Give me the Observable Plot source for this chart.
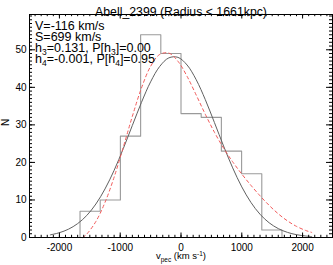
<!DOCTYPE html>
<html><head><meta charset="utf-8">
<script src="https://cdn.jsdelivr.net/npm/d3@7"></script>
<script src="https://cdn.jsdelivr.net/npm/@observablehq/plot@0.6"></script>
<style>
html,body{margin:0;padding:0;background:#fff;}
</style></head><body><div id="chart"></div>
<script>
const title = "Abell_2399 (Radius < 1661kpc)";
const statLines = ["V=-116 km/s", "S=699 km/s", "h_{3}=0.131, P[h_{3}]=0.00", "h_{4}=-0.001, P[h_{4}]=0.95"];
const xLabel = "v_{pec} (km s^{-1})";
const yLabel = "N";

const binEdges = [-1661, -1329, -997, -664, -332, 0, 332, 664, 997, 1329, 1661];
const binCounts = [7, 10, 27, 54, 49, 33, 32, 23, 17, 2];

const gaussV = [-2150,-2000,-1850,-1700,-1550,-1400,-1250,-1100,-950,-800,-650,-500,-350,-200,-50,100,250,400,550,700,850,1000,1150,1300,1450,1600,1750,1900,2050,2150];
const gaussN = [0.70,1.28,2.22,3.70,5.87,8.92,12.94,17.89,23.66,29.86,36.00,41.46,45.57,47.85,47.99,45.95,42.03,36.71,30.62,24.38,18.55,13.48,9.35,6.19,3.92,2.37,1.37,0.75,0.40,0.25];

const ghV = [-1613,-1550,-1400,-1250,-1100,-950,-800,-650,-500,-350,-200,-50,100,250,400,550,700,850,1000,1150,1300,1450,1600,1750,1900,2050,2150];
const ghN = [0,0.90,4.26,9.35,16.07,24.02,32.29,39.83,45.59,48.76,49.12,46.94,42.92,37.95,32.81,28.03,23.82,20.16,16.90,13.90,11.11,8.56,6.31,4.44,2.96,1.88,1.35];

const xTicks = [-2000, -1000, 0, 1000, 2000];
const yTicks = [0, 10, 20, 30, 40, 50];
const xMinor = d3.range(-2400, 2401, 100);
const yMinor = d3.range(0, 60, 1);

// step outline of the histogram
const histPts = [{v: binEdges[0], n: 0}]
  .concat(binCounts.map((c, i) => ({v: binEdges[i], n: c})))
  .concat([{v: binEdges[binEdges.length - 1], n: 0}]);
const gauss = gaussV.map((v, i) => ({v, n: gaussN[i]}));
const gh = ghV.map((v, i) => ({v, n: ghN[i]}));

const W = 333, H = 265, mL = 29, mR = 1, mT = 14, mB = 28;
const pw = W - mL - mR, ph = H - mT - mB;
const fmt = d => String(d);

const chart = Plot.plot({
  width: W, height: H,
  marginLeft: mL, marginRight: mR, marginTop: mT, marginBottom: mB,
  style: {fontFamily: "'Liberation Sans', Arial, Helvetica, sans-serif", fontSize: "10px", background: "#fff", color: "#000", overflow: "visible"},
  x: {domain: [-2492, 2492]},
  y: {domain: [0, 59.4]},
  marks: [
    Plot.line(histPts, {x: "v", y: "n", curve: "step-after", stroke: "#9a9a9a", strokeWidth: 1.1}),
    Plot.line(gauss, {x: "v", y: "n", curve: "catmull-rom", stroke: "#606060", strokeWidth: 1}),
    Plot.line(gh, {x: "v", y: "n", curve: "catmull-rom", stroke: "#f25a5a", strokeWidth: 1, strokeDasharray: "3,3"}),
    // ticks, inward, on all four sides
    Plot.tickX(xTicks, {x: d => d, insetTop: ph - 4.5, stroke: "#000"}),
    Plot.tickX(xTicks, {x: d => d, insetBottom: ph - 4.5, stroke: "#000"}),
    Plot.tickX(xMinor, {x: d => d, insetTop: ph - 2.2, stroke: "#000"}),
    Plot.tickX(xMinor, {x: d => d, insetBottom: ph - 2.2, stroke: "#000"}),
    Plot.tickY(yTicks, {y: d => d, insetRight: pw - 6, stroke: "#000"}),
    Plot.tickY(yTicks, {y: d => d, insetLeft: pw - 6, stroke: "#000"}),
    Plot.tickY(yMinor, {y: d => d, insetRight: pw - 3, stroke: "#000"}),
    Plot.tickY(yMinor, {y: d => d, insetLeft: pw - 3, stroke: "#000"}),
    Plot.frame({stroke: "#000", strokeWidth: 1}),
    Plot.axisX(xTicks, {anchor: "bottom", tickSize: 0, tickPadding: 6, fontSize: 10, label: null, tickFormat: fmt}),
    Plot.axisY(yTicks, {anchor: "left", tickSize: 0, tickPadding: 3, fontSize: 10, label: null, tickFormat: fmt}),
    Plot.text([title], {text: d => d, frameAnchor: "top", dy: -7.3, fontSize: 12.3}),
    ...statLines.map((s, i) => Plot.text([s], {text: d => d, frameAnchor: "top-left", textAnchor: "start", dx: 5.5, dy: 6.3 + i * 11.1, fontSize: 12.5, className: "richstat"})),
    Plot.text([xLabel], {text: d => d, frameAnchor: "bottom", dy: 21.5, fontSize: 9.5, className: "richx"}),
    Plot.text([yLabel], {text: d => d, frameAnchor: "left", dx: -24, rotate: -90, fontSize: 10})
  ]
});
document.getElementById("chart").appendChild(chart);

const NS = "http://www.w3.org/2000/svg";
function richify(el, small, subShift, supShift) {
  const s = el.textContent;
  if (!/[_^]\{/.test(s)) return;
  el.textContent = "";
  let shift = 0;
  const add = (txt, sh, fs) => {
    const t = document.createElementNS(NS, "tspan");
    t.textContent = txt;
    const dy = sh - shift;
    if (dy) t.setAttribute("dy", dy);
    if (fs) t.setAttribute("font-size", fs);
    el.appendChild(t);
    shift = sh;
  };
  const re = /([_^])\{([^}]*)\}/g;
  let last = 0, m;
  while ((m = re.exec(s))) {
    if (m.index > last) add(s.slice(last, m.index), 0);
    add(m[2], m[1] === "_" ? subShift : -supShift, small);
    last = re.lastIndex;
  }
  if (last < s.length) add(s.slice(last), 0);
}
chart.querySelectorAll("g.richstat text").forEach(el => richify(el, 8.5, 3.5, 4));
chart.querySelectorAll("g.richx text").forEach(el => richify(el, 6.5, 2.5, 3.5));
</script>
</body></html>
